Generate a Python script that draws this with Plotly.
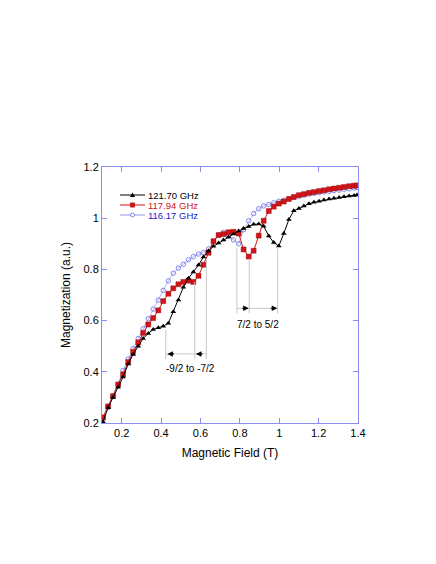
import plotly.graph_objects as go

field = [0.105, 0.131, 0.156, 0.182, 0.207, 0.233, 0.258, 0.284, 0.309, 0.335,
         0.360, 0.386, 0.411, 0.437, 0.462, 0.488, 0.513, 0.539, 0.564, 0.590,
         0.615, 0.641, 0.666, 0.692, 0.717, 0.743, 0.768, 0.794, 0.819, 0.845,
         0.870, 0.896, 0.921, 0.947, 0.972, 0.998, 1.023, 1.049, 1.074, 1.100,
         1.125, 1.151, 1.176, 1.202, 1.227, 1.253, 1.278, 1.304, 1.329, 1.355,
         1.380, 1.395]

m_121_70 = [0.205, 0.26, 0.30, 0.34, 0.38, 0.43, 0.468, 0.50, 0.53, 0.55,
            0.565, 0.572, 0.578, 0.59, 0.635, 0.68, 0.73, 0.765, 0.79, 0.817,
            0.848, 0.872, 0.89, 0.903, 0.915, 0.927, 0.938, 0.95, 0.96, 0.968,
            0.976, 0.977, 0.969, 0.93, 0.905, 0.891, 0.94, 0.995, 1.029, 1.038,
            1.048, 1.056, 1.062, 1.066, 1.071, 1.075, 1.078, 1.081, 1.084, 1.087,
            1.089, 1.091]

m_117_94 = [0.222, 0.265, 0.305, 0.35, 0.39, 0.438, 0.478, 0.515, 0.552, 0.585,
            0.61, 0.64, 0.676, 0.705, 0.726, 0.742, 0.751, 0.756, 0.751, 0.775,
            0.818, 0.865, 0.91, 0.934, 0.938, 0.945, 0.947, 0.94, 0.878, 0.85,
            0.873, 0.932, 0.99, 1.028, 1.045, 1.057, 1.065, 1.075, 1.083, 1.09,
            1.094, 1.099, 1.102, 1.106, 1.109, 1.113, 1.116, 1.119, 1.122, 1.125,
            1.127, 1.128]

m_116_17 = [0.215, 0.262, 0.305, 0.352, 0.405, 0.45, 0.49, 0.53, 0.568, 0.607,
            0.645, 0.68, 0.718, 0.755, 0.785, 0.805, 0.82, 0.838, 0.85, 0.86,
            0.866, 0.88, 0.91, 0.935, 0.945, 0.93, 0.915, 0.9, 0.955, 0.99,
            1.018, 1.037, 1.048, 1.054, 1.06, 1.066, 1.07, 1.076, 1.081, 1.086,
            1.09, 1.094, 1.097, 1.1, 1.103, 1.105, 1.108, 1.11, 1.113, 1.115,
            1.118, 1.12]

series_names = ["121.70 GHz", "117.94 GHz", "116.17 GHz"]
x_ticks = [0.2, 0.4, 0.6, 0.8, 1.0, 1.2, 1.4]
y_ticks = [0.2, 0.4, 0.6, 0.8, 1.0, 1.2]

FONT = "Liberation Sans, Arial, Helvetica, sans-serif"
AXIS_COL = "#8c8cf0"
GUIDE_COL = "#c8c8c8"
BLACK = "#000000"
RED = "#d41418"
BLUE_LINE = "#b4b8f2"
BLUE_MK = "#6a6ae8"

# page offset (default body margin of the html page)
OFF = 8
PL, PT, PW, PH = 102 - OFF, 167 - OFF, 256, 256

fig = go.Figure()

fig.add_trace(go.Scatter(
    x=field, y=m_116_17, mode="lines+markers", name=series_names[2],
    line=dict(color=BLUE_LINE, width=1),
    marker=dict(symbol="circle-open", size=4.5, color=BLUE_MK, line=dict(width=0.8, color=BLUE_MK)),
    showlegend=False))
fig.add_trace(go.Scatter(
    x=field, y=m_117_94, mode="lines+markers", name=series_names[1],
    line=dict(color=RED, width=1),
    marker=dict(symbol="square", size=5, color=RED, line=dict(width=0.4, color="#8a0000")),
    showlegend=False))
fig.add_trace(go.Scatter(
    x=field, y=m_121_70, mode="lines+markers", name=series_names[0],
    line=dict(color=BLACK, width=1),
    marker=dict(symbol="triangle-up", size=5, color=BLACK),
    showlegend=False))

shapes = []
annotations = []

# guide lines (data coordinates)
guides = [(0.424, 0.565, 0.45), (0.571, 0.75, 0.45), (0.630, 0.84, 0.45),
          (0.785, 0.882, 0.628), (0.848, 0.842, 0.628), (0.992, 0.882, 0.628)]
for gx, top, bot in guides:
    shapes.append(dict(type="line", xref="x", yref="y", x0=gx, x1=gx, y0=bot, y1=top,
                       line=dict(color=GUIDE_COL, width=1)))
shapes.append(dict(type="line", xref="x", yref="y", x0=0.424, x1=0.630, y0=0.47, y1=0.47,
                   line=dict(color=GUIDE_COL, width=1)))
shapes.append(dict(type="line", xref="x", yref="y", x0=0.785, x1=0.992, y0=0.648, y1=0.648,
                   line=dict(color=GUIDE_COL, width=1)))

# arrowheads
for tipx, ty, dx in [(0.432, 0.47, 8), (0.577, 0.47, 8), (0.845, 0.648, -8), (0.990, 0.648, -8)]:
    annotations.append(dict(x=tipx, y=ty, xref="x", yref="y", ax=dx, ay=0, text="",
                            showarrow=True, arrowhead=2, arrowsize=1.0, arrowwidth=1.1,
                            arrowcolor=BLACK))

annotations.append(dict(x=0.547, y=0.414, xref="x", yref="y", text="-9/2 to -7/2",
                        showarrow=False, font=dict(family=FONT, size=10, color=BLACK)))
annotations.append(dict(x=0.89, y=0.583, xref="x", yref="y", text="7/2 to 5/2",
                        showarrow=False, font=dict(family=FONT, size=10, color=BLACK)))

# custom compact legend (paper coords, positions in reference pixels)
def px2paper_x(px):
    return (px - 102) / 256.0

def px2paper_y(py):
    return (423 - py) / 256.0

leg = [(series_names[0], BLACK, BLACK, "tri", BLACK, 195),
       (series_names[1], RED, RED, "sq", RED, 205),
       (series_names[2], BLUE_LINE, BLUE_MK, "circ", "#1a1ad0", 215)]
for name, lcol, mcol, mk, tcol, py in leg:
    yy = px2paper_y(py)
    shapes.append(dict(type="line", xref="paper", yref="paper",
                       x0=px2paper_x(120), x1=px2paper_x(145), y0=yy, y1=yy,
                       line=dict(color=lcol, width=1.0 if mk != "circ" else 1.5)))
    cx = px2paper_x(132.5)
    if mk == "tri":
        shapes.append(dict(type="path", xref="paper", yref="paper", xsizemode="pixel",
                           ysizemode="pixel", xanchor=cx, yanchor=yy,
                           path="M -2.6 -2 L 2.6 -2 L 0 2.6 Z", fillcolor=mcol,
                           line=dict(width=0)))
    elif mk == "sq":
        shapes.append(dict(type="rect", xref="paper", yref="paper", xsizemode="pixel",
                           ysizemode="pixel", xanchor=cx, yanchor=yy,
                           x0=-2.2, x1=2.2, y0=-2.2, y1=2.2, fillcolor=mcol,
                           line=dict(width=0.4, color="#8a0000")))
    else:
        shapes.append(dict(type="circle", xref="paper", yref="paper", xsizemode="pixel",
                           ysizemode="pixel", xanchor=cx, yanchor=yy,
                           x0=-2, x1=2, y0=-2, y1=2, fillcolor="white",
                           line=dict(width=0.8, color=mcol)))
    annotations.append(dict(x=px2paper_x(146), y=yy, xref="paper", yref="paper",
                            xanchor="left", yanchor="middle", text=name, showarrow=False,
                            font=dict(family=FONT, size=9.5, color=tcol)))

fig.update_layout(
    width=436, height=564,
    margin=dict(l=PL, r=436 - PL - PW, t=PT, b=564 - PT - PH),
    paper_bgcolor="white", plot_bgcolor="white",
    font=dict(family=FONT, size=11, color=BLACK),
    shapes=shapes, annotations=annotations,
    showlegend=False,
)
fig.update_xaxes(
    range=[0.1, 1.4], tickvals=x_ticks, ticktext=["0.2", "0.4", "0.6", "0.8", "1", "1.2", "1.4"],
    ticks="inside", ticklen=5, tickcolor=AXIS_COL, tickwidth=1,
    showline=True, linecolor=AXIS_COL, linewidth=1, mirror="ticks",
    showgrid=False, zeroline=False, tickfont=dict(family=FONT, size=11),
    title=dict(text="Magnetic Field (T)", font=dict(family=FONT, size=12), standoff=10),
    automargin=False,
)
fig.update_yaxes(
    range=[0.2, 1.2], tickvals=y_ticks, ticktext=["0.2", "0.4", "0.6", "0.8", "1", "1.2"],
    ticks="inside", ticklen=5, tickcolor=AXIS_COL, tickwidth=1,
    showline=True, linecolor=AXIS_COL, linewidth=1, mirror="ticks",
    showgrid=False, zeroline=False, tickfont=dict(family=FONT, size=11),
    title=dict(text="Magnetization (a.u.)", font=dict(family=FONT, size=12), standoff=10),
    automargin=False,
)

fig.write_html("out.html")
